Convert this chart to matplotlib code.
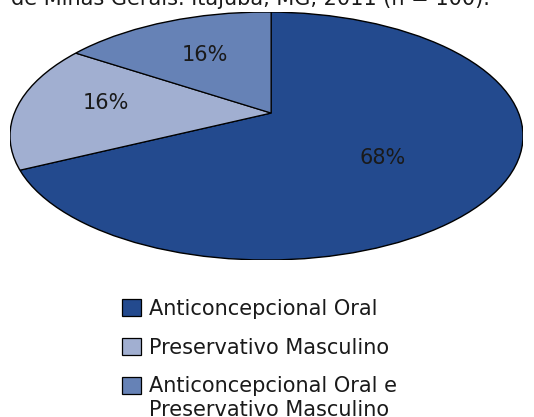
import matplotlib
matplotlib.use("Agg")
import matplotlib.pyplot as plt
from matplotlib.patches import Circle

# data
labels = ["Anticoncepcional Oral", "Preservativo Masculino",
          "Anticoncepcional Oral e\nPreservativo Masculino"]
values = [68, 16, 16]
colors = ["#234A8E", "#A1AFD1", "#6682B6"]
title = "de Minas Gerais. Itajubá, MG, 2011 (n = 100)."

plt.rcParams["font.family"] = "DejaVu Sans"
fs = 15
txt_color = "#1a1a1a"

W, H = 534, 417
fig = plt.figure(figsize=(W / 100, H / 100), dpi=100)

# axes spanning the ellipse bounding box (pixels 10..523 x 12..260)
ax = fig.add_axes([10 / W, 1 - 260 / H, 513 / W, 248 / H])

# apex of the tilted pie sits a bit above the ellipse centre
apex = (0.018, 0.185)
wedges, texts, autotexts = ax.pie(
    values, colors=colors, startangle=90, counterclock=False,
    center=apex, radius=2.5,
    wedgeprops=dict(edgecolor="black", linewidth=0.9),
    autopct=lambda p: f"{p:.0f}%", pctdistance=0.22,
    textprops=dict(fontsize=fs, color=txt_color))

ax.set_aspect("auto")
ax.set_xlim(-1, 1)
ax.set_ylim(-1, 1)
ax.axis("off")

rim = Circle((0, 0), 1, transform=ax.transData)
for w in wedges:
    w.set_clip_on(True)
    w.set_clip_path(rim)
ax.add_patch(Circle((0, 0), 1, fill=False, edgecolor="black", linewidth=1.0))

# label positions
for t, pos in zip(autotexts, [(0.452, -0.177), (-0.628, 0.266), (-0.242, 0.653)]):
    t.set_position(pos)
    t.set_ha("center")
    t.set_va("center")

fig.text(490 / W, 1 - 5 / H, title, ha="right", va="baseline",
         fontsize=fs, color=txt_color)

leg = fig.legend(wedges, labels, loc="upper left",
                 bbox_to_anchor=(122 / W, 1 - 299 / H),
                 frameon=False, fontsize=fs, borderpad=0,
                 handlelength=0.9, handleheight=0.9, handletextpad=0.4,
                 labelspacing=0.9, borderaxespad=0)
for t in leg.get_texts():
    t.set_color(txt_color)
# box of the two-line entry sits next to its first line
items = leg._legend_handle_box.get_children()[0].get_children()
items[2].align = "top"

fig.savefig("out.png", dpi=100)
